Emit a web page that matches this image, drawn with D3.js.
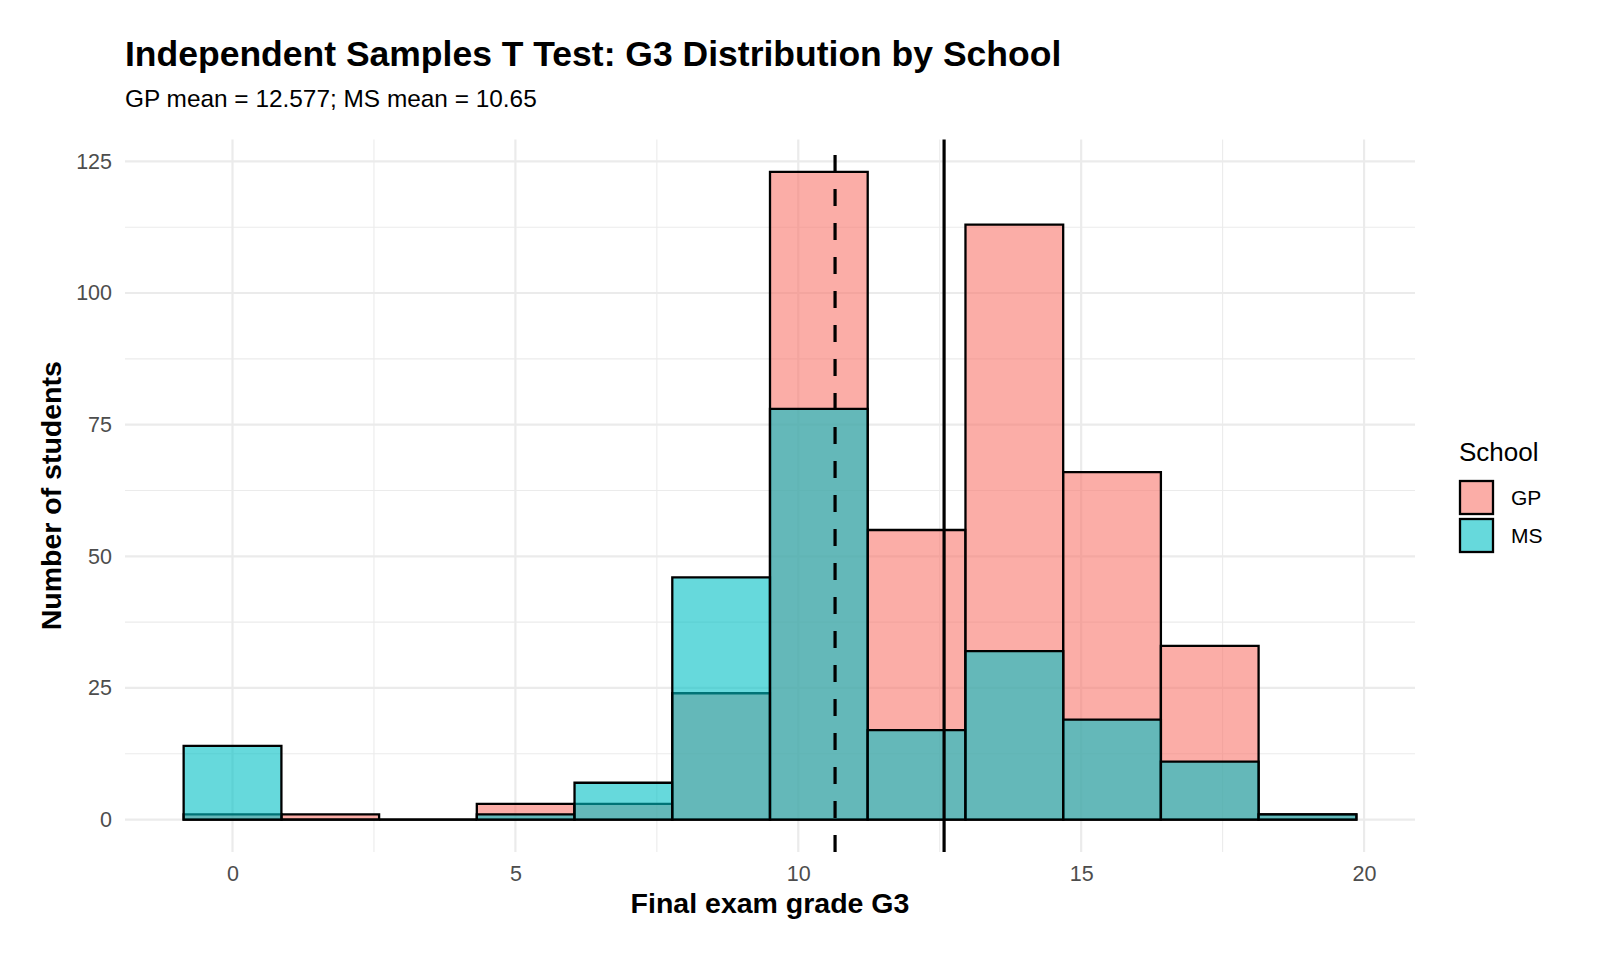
<!DOCTYPE html>
<html>
<head>
<meta charset="utf-8">
<script src="https://cdn.jsdelivr.net/npm/d3@7"></script>
<style>
  body { margin: 0; background: #fff; }
  svg { display: block; font-family: "Liberation Sans", Arial, sans-serif; }
</style>
</head>
<body>
<svg id="chart" width="1600" height="960"></svg>
<script>
// histogram bins (12 bins, width ~1.727)
const binEdges = [-0.864, 0.864, 2.591, 4.318, 6.045, 7.773, 9.5, 11.227, 12.955, 14.682, 16.409, 18.136, 19.864];
const gpCounts = [1, 1, 0, 3, 3, 24, 123, 55, 113, 66, 33, 1];
const msCounts = [14, 0, 0, 1, 7, 46, 78, 17, 32, 19, 11, 1];
const schools = ['GP', 'MS'];
const schoolColors = ['#F8766D', '#00BFC4'];
const gpMean = 12.577;
const msMean = 10.65;
const xTicks = [0, 5, 10, 15, 20];
const xMinor = [2.5, 7.5, 12.5, 17.5];
const yTicks = [0, 25, 50, 75, 100, 125];
const yMinor = [12.5, 37.5, 62.5, 87.5, 112.5];

const svg = d3.select('#chart');

const panel = { left: 125, right: 1415, top: 139.5, bottom: 852 };

// ggplot style 5% expansion
const xMin = binEdges[0], xMax = binEdges[binEdges.length - 1];
const xPad = (xMax - xMin) * 0.05;
const x = d3.scaleLinear()
  .domain([xMin - xPad, xMax + xPad])
  .range([panel.left, panel.right]);

const yMaxVal = d3.max([...gpCounts, ...msCounts]);
const yPad = yMaxVal * 0.05;
const y = d3.scaleLinear()
  .domain([-yPad, yMaxVal + yPad])
  .range([panel.bottom, panel.top]);

// grid
const grid = svg.append('g');
grid.selectAll('.xminor').data(xMinor).join('line')
  .attr('x1', d => x(d)).attr('x2', d => x(d))
  .attr('y1', panel.top).attr('y2', panel.bottom)
  .attr('stroke', '#ebebeb').attr('stroke-width', 1.1);
grid.selectAll('.yminor').data(yMinor).join('line')
  .attr('x1', panel.left).attr('x2', panel.right)
  .attr('y1', d => y(d)).attr('y2', d => y(d))
  .attr('stroke', '#ebebeb').attr('stroke-width', 1.1);
grid.selectAll('.xmajor').data(xTicks).join('line')
  .attr('x1', d => x(d)).attr('x2', d => x(d))
  .attr('y1', panel.top).attr('y2', panel.bottom)
  .attr('stroke', '#ebebeb').attr('stroke-width', 2.2);
grid.selectAll('.ymajor').data(yTicks).join('line')
  .attr('x1', panel.left).attr('x2', panel.right)
  .attr('y1', d => y(d)).attr('y2', d => y(d))
  .attr('stroke', '#ebebeb').attr('stroke-width', 2.2);

// bars: GP drawn first, MS on top. Paths so empty bins still show their outline.
const series = [gpCounts, msCounts];
series.forEach((counts, si) => {
  const bins = counts.map((c, i) => ({ x0: binEdges[i], x1: binEdges[i + 1], n: c }));
  svg.append('g')
    .selectAll('path')
    .data(bins)
    .join('path')
    .attr('d', b => `M${x(b.x0)},${y(0)}H${x(b.x1)}V${y(b.n)}H${x(b.x0)}Z`)
    .attr('fill', schoolColors[si])
    .attr('fill-opacity', 0.6)
    .attr('stroke', '#000')
    .attr('stroke-width', 2.3)
    .attr('stroke-linejoin', 'miter');
});

// mean lines (drawn bottom to top like ggplot segments)
svg.append('line')
  .attr('x1', x(gpMean)).attr('x2', x(gpMean))
  .attr('y1', panel.bottom).attr('y2', panel.top)
  .attr('stroke', '#000').attr('stroke-width', 3.2);
svg.append('line')
  .attr('x1', x(msMean)).attr('x2', x(msMean))
  .attr('y1', panel.bottom).attr('y2', panel.top)
  .attr('stroke', '#000').attr('stroke-width', 3.2)
  .attr('stroke-dasharray', '17,17');

// axes
const xAxis = svg.append('g')
  .attr('transform', `translate(0,${panel.bottom})`)
  .call(d3.axisBottom(x).tickValues(xTicks).tickSize(0).tickPadding(14));
const yAxis = svg.append('g')
  .attr('transform', `translate(${panel.left},0)`)
  .call(d3.axisLeft(y).tickValues(yTicks).tickSize(0).tickPadding(13));
[xAxis, yAxis].forEach(a => {
  a.select('.domain').remove();
  a.selectAll('text')
    .attr('fill', '#4d4d4d')
    .style('font-size', '21.5px')
    .style('font-family', '"Liberation Sans", Arial, sans-serif');
});

// titles
svg.append('text')
  .attr('x', 125).attr('y', 66)
  .attr('font-size', '35.5px').attr('font-weight', 'bold')
  .attr('fill', '#000')
  .text('Independent Samples T Test: G3 Distribution by School');

svg.append('text')
  .attr('x', 125).attr('y', 107)
  .attr('font-size', '24.4px')
  .attr('fill', '#000')
  .text(`GP mean = ${gpMean}; MS mean = ${msMean}`);

svg.append('text')
  .attr('x', (panel.left + panel.right) / 2).attr('y', 913)
  .attr('text-anchor', 'middle')
  .attr('font-size', '28.5px').attr('font-weight', 'bold')
  .text('Final exam grade G3');

svg.append('text')
  .attr('transform', `translate(61,${(panel.top + panel.bottom) / 2}) rotate(-90)`)
  .attr('text-anchor', 'middle')
  .attr('font-size', '28.5px').attr('font-weight', 'bold')
  .text('Number of students');

// legend
const legend = svg.append('g').attr('transform', 'translate(1459,0)');
legend.append('text')
  .attr('x', 0).attr('y', 461)
  .attr('font-size', '26px')
  .text('School');
schools.forEach((s, i) => {
  const top = 480 + i * 38;
  legend.append('rect')
    .attr('x', 1).attr('y', top + 1)
    .attr('width', 33).attr('height', 33)
    .attr('fill', schoolColors[i]).attr('fill-opacity', 0.6)
    .attr('stroke', '#000').attr('stroke-width', 2.3);
  legend.append('text')
    .attr('x', 52).attr('y', top + 17.5)
    .attr('dy', '0.35em')
    .attr('font-size', '21px')
    .text(s);
});
</script>
</body>
</html>
